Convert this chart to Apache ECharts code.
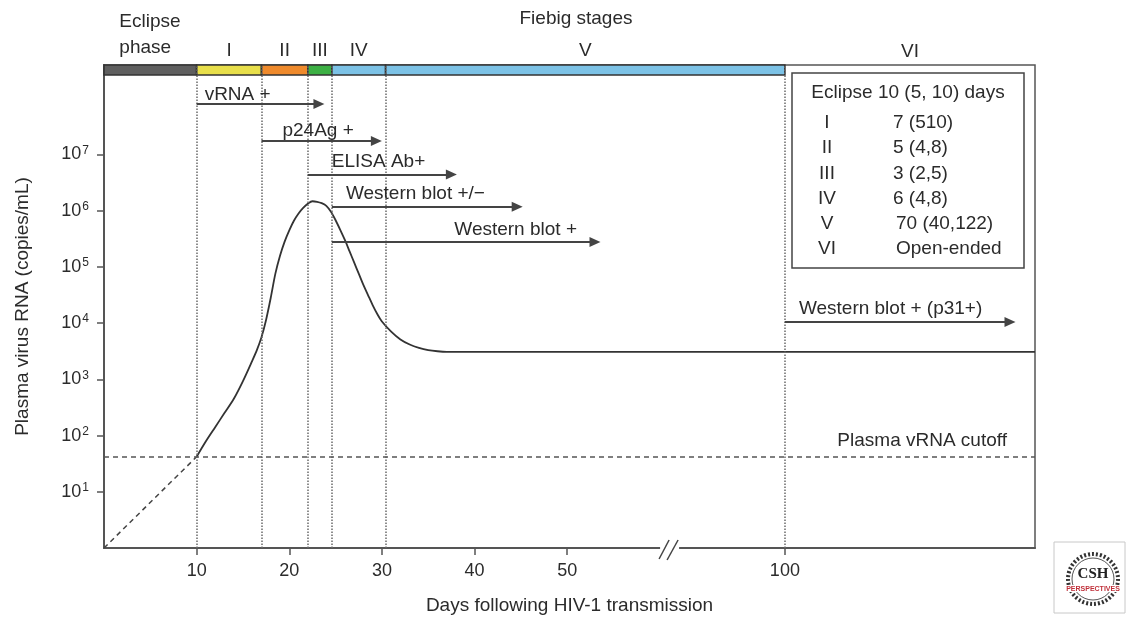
<!DOCTYPE html>
<html><head><meta charset="utf-8">
<script src="https://cdn.jsdelivr.net/npm/echarts@6/dist/echarts.min.js"></script>
<style>html,body{margin:0;padding:0;background:#fff}#c{width:1126px;height:621px}</style>
</head><body><div id="c"></div>
<script>
// ---------------- data ----------------
const curveDays   = [10, 11, 12, 13, 14, 15, 16, 16.5, 17, 17.5, 18, 18.5, 19, 19.5, 20, 20.5, 21, 21.5, 22, 22.5, 23, 23.5, 24, 24.5, 25, 25.5, 26, 26.5, 27, 27.5, 28, 28.5, 29, 29.5, 30, 31, 32, 33, 34, 35, 36, 37, 127];
const curveValues = [42, 79, 141, 251, 447, 933, 2140, 3310, 5620, 11500, 28200, 75900, 158000, 282000, 447000, 661000, 891000, 1120000, 1330000, 1470000, 1440000, 1360000, 1220000, 955000, 676000, 457000, 302000, 191000, 120000, 75900, 47900, 31600, 20900, 14500, 10700, 7080, 5130, 4170, 3630, 3310, 3160, 3090, 3090];
const eclipseDays   = [0, 10];
const eclipseValues = [1, 42];
const cutoffValue = 42;

const stageNames  = ['Eclipse\nphase', 'I', 'II', 'III', 'IV', 'V', 'VI'];
const stageStarts = [0, 10, 17, 22, 24.6, 30.4, 100];
const stageEnds   = [10, 17, 22, 24.6, 30.4, 100, 127];
const stageColors = ['#5f5f5f', '#e8df4a', '#ef8a2c', '#3cb044', '#7cc2e6', '#7cc2e6', null];

const tests      = ['vRNA +', 'p24Ag +', 'ELISA Ab+', 'Western blot +/\u2212', 'Western blot +', 'Western blot + (p31+)'];
const testStart  = [10, 17, 22, 24.6, 24.6, 100];
const testEnd    = [23.2, 29.4, 37.5, 44.6, 53, 124.3];
const testLevel  = [7.9e7, 1.74e7, 4.4e6, 1.17e6, 2.77e5, 1.05e4];

const xTicks = [10, 20, 30, 40, 50, 100];
const yTicks = [10, 100, 1000, 10000, 100000, 1000000, 10000000];

const legendTitle = 'Eclipse 10 (5, 10) days';
const legendStages = ['I', 'II', 'III', 'IV', 'V', 'VI'];
const legendDurations = ['7 (510)', '5 (4,8)', '3 (2,5)', '6 (4,8)', '70 (40,122)', 'Open-ended'];

// broken x axis: days after BREAK_AT are shifted left by BREAK_SKIP
const BREAK_AT = 60, BREAK_SKIP = 26.5, X_MAX_DAY = 127;
const toAxis = d => d <= BREAK_AT ? d : d - BREAK_SKIP;
const fromAxis = a => a <= BREAK_AT ? a : a + BREAK_SKIP;

// ---------------- styles / layout ----------------
const FONT = '"Liberation Sans", Arial, Helvetica, sans-serif';
const TXT = '#2b2b2b';
const G = {left: 104, right: 91, top: 65, bottom: 73};
// label placement for test arrows: [position, along, perpendicular]
const testLabelPos = [
  ['insideStartTop', 8, 0], ['insideStartTop', 21, 1], ['insideStartTop', 24, 3],
  ['insideStartTop', 14, 4], ['insideEndTop', 18, 3], ['insideStartTop', 14, 4]
];

const chart = echarts.init(document.getElementById('c'));

const verticals = stageStarts.slice(1).map(d => ({
  xAxis: toAxis(d), symbol: 'none',
  lineStyle: {type: 'dotted', color: '#6a6a6a', width: 1.5},
  label: {show: false}
}));
const cutoffLine = {
  yAxis: cutoffValue,
  lineStyle: {type: [5, 4], color: '#555', width: 1.6},
  label: {show: true, position: 'insideEndTop', formatter: 'Plasma vRNA cutoff',
          distance: [28, 6], color: TXT, fontSize: 19, fontFamily: FONT}
};
const arrows = tests.map((t, i) => [
  {coord: [toAxis(testStart[i]), testLevel[i]], symbol: 'none',
   lineStyle: {type: 'solid', color: '#444', width: 2},
   label: {show: true, formatter: t, position: testLabelPos[i][0],
           distance: [testLabelPos[i][1], testLabelPos[i][2]],
           color: TXT, fontSize: 19, fontFamily: FONT}},
  {coord: [toAxis(testEnd[i]), testLevel[i]], symbol: 'triangle', symbolSize: [10, 11]}
]);

const stageAreas = stageNames.map((n, i) => {
  const isEcl = i === 0;
  return [
    {xAxis: toAxis(stageStarts[i]),
     itemStyle: stageColors[i]
       ? {color: stageColors[i], borderColor: '#333', borderWidth: 1.6}
       : {color: 'rgba(0,0,0,0)', borderWidth: 0},
     label: {show: true, position: 'top', distance: isEcl ? 3 : 4,
             formatter: isEcl ? n.split('\n').map(s => '{l|' + s + '}').join('\n') : n,
             color: TXT, fontSize: 19, fontFamily: FONT,
             rich: {l: {width: 62, align: 'left', lineHeight: 26, fontSize: 19, fontFamily: FONT, color: TXT}}}},
    {xAxis: toAxis(stageEnds[i])}
  ];
});

const option = {
  animation: false,
  backgroundColor: '#fff',
  grid: [
    {left: G.left, right: G.right, top: G.top, bottom: G.bottom, show: true,
     borderColor: '#555', borderWidth: 1.5, backgroundColor: 'transparent'},
    {left: G.left, right: G.right, top: G.top, height: 10}
  ],
  xAxis: [
    {type: 'value', gridIndex: 0, min: 0, max: toAxis(X_MAX_DAY),
     name: 'Days following HIV-1 transmission', nameLocation: 'middle', nameGap: 48,
     nameTextStyle: {color: TXT, fontSize: 19, fontFamily: FONT},
     axisLine: {show: true, lineStyle: {color: '#555', width: 2}},
     axisTick: {show: true, length: 7, customValues: xTicks.map(toAxis), lineStyle: {color: '#555', width: 1.5}},
     axisLabel: {show: true, customValues: xTicks.map(toAxis), margin: 14,
                 formatter: v => String(Math.round(fromAxis(v))),
                 color: TXT, fontSize: 18, fontFamily: FONT},
     splitLine: {show: false}},
    {type: 'value', gridIndex: 1, min: 0, max: toAxis(X_MAX_DAY), show: false}
  ],
  yAxis: [
    {type: 'log', logBase: 10, gridIndex: 0, min: 1, max: 3.9e8,
     name: 'Plasma virus RNA (copies/mL)', nameLocation: 'middle', nameGap: 72,
     nameTextStyle: {color: TXT, fontSize: 19, fontFamily: FONT},
     axisLine: {show: true, lineStyle: {color: '#555', width: 2}},
     axisTick: {show: true, length: 7, customValues: yTicks, lineStyle: {color: '#555', width: 1.5}},
     axisLabel: {show: true, customValues: yTicks, margin: 15,
                 formatter: v => '{b|10}{s|' + Math.round(Math.log10(v)) + '}',
                 rich: {b: {fontSize: 18, fontFamily: FONT, color: TXT, lineHeight: 20},
                        s: {fontSize: 12, fontFamily: FONT, color: TXT, verticalAlign: 'top', lineHeight: 12, padding: [0, 0, 0, 1]}}},
     splitLine: {show: false}},
    {type: 'value', gridIndex: 1, min: 0, max: 1, show: false}
  ],
  series: [
    {type: 'line', xAxisIndex: 0, yAxisIndex: 0, silent: true,
     data: eclipseDays.map((d, i) => [toAxis(d), eclipseValues[i]]),
     symbol: 'none', lineStyle: {color: '#444', width: 1.5, type: [5, 4]}},
    {type: 'line', xAxisIndex: 0, yAxisIndex: 0, silent: true,
     data: curveDays.map((d, i) => [toAxis(d), curveValues[i]]),
     smooth: 0.3, symbol: 'none',
     lineStyle: {color: '#333', width: 1.8},
     markLine: {silent: true, symbol: ['none', 'none'], animation: false,
                data: [...verticals, cutoffLine, ...arrows]}},
    {type: 'line', xAxisIndex: 1, yAxisIndex: 1, silent: true,
     data: [[0, 0.5], [toAxis(X_MAX_DAY), 0.5]], symbol: 'none',
     lineStyle: {width: 0, opacity: 0},
     markArea: {silent: true, data: stageAreas}}
  ]
};
chart.setOption(option);

// ---------------- decorations ----------------
const bx = chart.convertToPixel({xAxisIndex: 0}, 61);
const by = chart.convertToPixel({yAxisIndex: 0}, 1);
const graphics = [
  {type: 'text', x: 576, y: 19, style: {text: 'Fiebig stages', fill: TXT, font: '19px ' + FONT, textAlign: 'center', textVerticalAlign: 'middle'}},
  // axis break mark
  {type: 'rect', shape: {x: bx - 9, y: by - 3, width: 19, height: 6}, style: {fill: '#fff'}, z: 100},
  {type: 'line', shape: {x1: bx - 10, y1: by + 11, x2: bx, y2: by - 8}, style: {stroke: '#444', lineWidth: 1.5}, z: 101},
  {type: 'line', shape: {x1: bx - 2, y1: by + 12, x2: bx + 9, y2: by - 8}, style: {stroke: '#444', lineWidth: 1.5}, z: 101},
  // legend box
  {type: 'rect', shape: {x: 792, y: 73, width: 232, height: 195}, style: {fill: '#fff', stroke: '#444', lineWidth: 1.5}, z: 50},
  {type: 'text', x: 908, y: 93, z: 51, style: {text: legendTitle, fill: TXT, font: '19px ' + FONT, textAlign: 'center', textVerticalAlign: 'middle'}}
];
legendStages.forEach((s, i) => {
  const y = 123 + i * 25.2;
  graphics.push({type: 'text', x: 827, y: y, z: 51, style: {text: s, fill: TXT, font: '19px ' + FONT, textAlign: 'center', textVerticalAlign: 'middle'}});
  graphics.push({type: 'text', x: i >= 4 ? 896 : 893, y: y, z: 51, style: {text: legendDurations[i], fill: TXT, font: '19px ' + FONT, textAlign: 'left', textVerticalAlign: 'middle'}});
});
// CSH logo
graphics.push(
  {type: 'rect', shape: {x: 1054, y: 542, width: 71, height: 71}, style: {fill: '#fff', stroke: '#c8c8c8', lineWidth: 1}},
  {type: 'circle', shape: {cx: 1093, cy: 579, r: 25}, style: {fill: 'none', stroke: '#333', lineWidth: 4, lineDash: [2, 2]}},
  {type: 'circle', shape: {cx: 1093, cy: 579, r: 21}, style: {fill: '#fff', stroke: '#555', lineWidth: 1}},
  {type: 'text', x: 1093, y: 574, style: {text: 'CSH', fill: '#222', font: 'bold 15px "Liberation Serif", serif', textAlign: 'center', textVerticalAlign: 'middle'}},
  {type: 'rect', shape: {x: 1062, y: 585, width: 62, height: 7}, style: {fill: '#fff'}},
  {type: 'text', x: 1093, y: 589, style: {text: 'PERSPECTIVES', fill: '#c0303a', font: 'bold 7px "Liberation Sans", sans-serif', textAlign: 'center', textVerticalAlign: 'middle'}}
);
chart.setOption({graphic: graphics});
</script>
</body></html>
